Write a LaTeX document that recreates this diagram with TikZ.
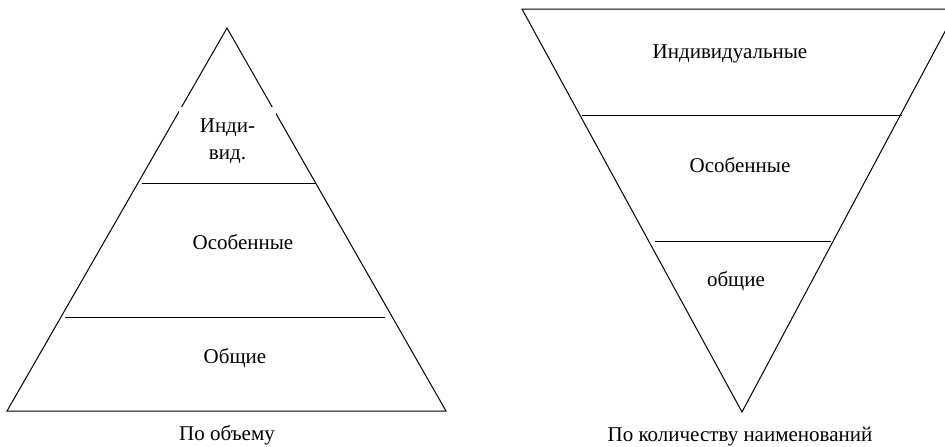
\documentclass[tikz,border=0pt]{standalone}
\usepackage{fontspec}
\setmainfont{Liberation Serif}
\begin{document}
\begin{tikzpicture}[x=1pt,y=-1pt,line width=1pt,
  lbl/.style={font=\fontsize{21}{24}\selectfont, inner sep=0pt, align=center},
  divider/.style={line width=1pt}]
\clip (0,0) rectangle (945,447);
% left triangle
\coordinate (LA) at (227,28);
\coordinate (LL) at (7,411);
\coordinate (LR) at (446,411);
\draw (LA) -- (LL) -- (LR) -- cycle;
\coordinate (l1a) at (142,183); \coordinate (l1b) at (315,183);
\coordinate (l2a) at (65,317);  \coordinate (l2b) at (385,317);
\draw[divider] (l1a) -- (l1b);
\draw[divider] (l2a) -- (l2b);
\node[lbl, fill=white, minimum width=97pt, minimum height=69pt] (ind) at (227.5,141.5) {Инди-\\[3pt]вид.};
\node[lbl] (osob1) at (243,242) {Особенные};
\node[lbl] (obsh1) at (235,358) {Общие};
\node[lbl] (cap1) at (227,435) {По объему};
% right triangle
\coordinate (RL) at (522,9);
\coordinate (RR) at (957,9);
\coordinate (RA) at (742,412);
\draw (RL) -- (RR) -- (RA) -- cycle;
\coordinate (r1a) at (582,115); \coordinate (r1b) at (902,115);
\coordinate (r2a) at (655,241); \coordinate (r2b) at (831,241);
\draw[divider] (r1a) -- (r1b);
\draw[divider] (r2a) -- (r2b);
\node[lbl] (ind2) at (730,54) {Индивидуальные};
\node[lbl] (osob2) at (740,165) {Особенные};
\node[lbl] (obsh2) at (736,281) {общие};
\node[lbl] (cap2) at (740,437) {По количеству наименований};
\end{tikzpicture}
\end{document}
